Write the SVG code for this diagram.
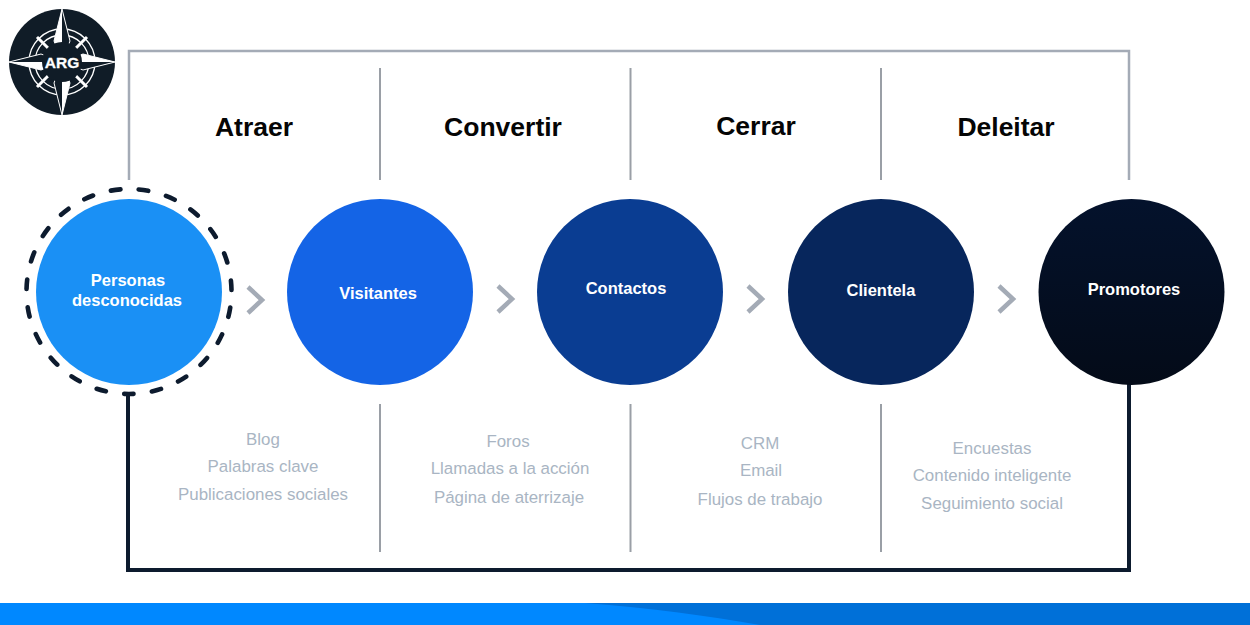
<svg xmlns="http://www.w3.org/2000/svg" width="1250" height="625" viewBox="0 0 1250 625">
<defs>
<style>
text{font-family:"Liberation Sans",Arial,sans-serif}
.h{font-size:26.500px;font-weight:700;fill:#050505;text-anchor:middle}
.n{font-size:16.500px;font-weight:700;fill:#fff;text-anchor:middle}
.l{font-size:16.900px;fill:#a9b5c3;text-anchor:middle}
.g{fill:none;stroke:#a4abb6;stroke-width:2.500}
.gv{fill:none;stroke:#9a9fa6;stroke-width:2}
.d{fill:none;stroke:#0d1b2e;stroke-width:4}
.c{fill:none;stroke:#a4abb6;stroke-width:4.500}
.w{fill:#fff}
</style>
<linearGradient id="p5" x1="0" y1="0" x2="0" y2="1"><stop offset="0" stop-color="#04122c"/><stop offset="1" stop-color="#040b18"/></linearGradient>
</defs>
<rect width="1250" height="625" fill="#fff"/>
<g id="connectors">
<path class="g" d="M129 180V51H1129V180"/>
<path class="d" d="M128 392V570H1129V384"/>
<path class="gv" d="M380 68V180M630.500 68V180M881 68V180M380 404V552M630.500 404V552M881 404V552"/>
<path class="c" d="M248 287L262 300L248 313"/>
<path class="c" d="M498 286L512 299L498 312"/>
<path class="c" d="M748 286L762 299L748 312"/>
<path class="c" d="M999 286L1013 299L999 312"/>
</g>
<g id="logo">
<circle cx="62" cy="62" r="53" fill="#101c27"/>
<g fill="none" stroke="#fff" stroke-width="1.300"><circle cx="62" cy="62" r="33"/><circle cx="62" cy="62" r="27"/></g>
<path d="M37 37L87 87M87 37L37 87" stroke="#fff" stroke-width="3"/>
<path d="M62 9L70 41L62 62L54 41ZM62 115L70 83L62 62L54 83ZM9 62L41 54L62 62L41 70ZM115 62L83 54L62 62L83 70Z" fill="#101c27" stroke="#fff" stroke-width="1"/>
<path class="w" d="M62 9L54 41L62 62ZM62 115L70 83L62 62ZM9 62L41 70L62 62ZM115 62L83 54L62 62Z"/>
<circle cx="62" cy="62" r="20" fill="#101c27"/>
<text x="62" y="67.500" text-anchor="middle" font-size="15.500" font-weight="700" fill="#fff" stroke="#fff" stroke-width=".3">ARG</text>
</g>
<g id="atraer"><text class="h" x="254" y="136">Atraer</text></g>
<g id="convertir"><text class="h" x="503" y="136">Convertir</text></g>
<g id="cerrar"><text class="h" x="756" y="135">Cerrar</text></g>
<g id="deleitar"><text class="h" x="1006" y="136">Deleitar</text></g>
<g id="personas">
<circle cx="129" cy="291.500" r="102.500" fill="none" stroke="#0d1b2e" stroke-width="4.600" stroke-linecap="round" stroke-dasharray="9.500 18.500" stroke-dashoffset="11.800"/>
<circle cx="129" cy="292" r="93" fill="#1a90f5"/>
<text class="n" x="128" y="286">Personas</text>
<text class="n" x="127" y="306">desconocidas</text>
</g>
<g id="visitantes"><circle cx="380" cy="292" r="93" fill="#1464e6"/><text class="n" x="378" y="299">Visitantes</text></g>
<g id="contactos"><circle cx="630" cy="292" r="93" fill="#0a3d92"/><text class="n" x="626" y="294">Contactos</text></g>
<g id="clientela"><circle cx="881" cy="292" r="93" fill="#07265c"/><text class="n" x="881" y="296">Clientela</text></g>
<g id="promotores"><circle cx="1131.500" cy="292" r="93" fill="url(#p5)"/><text class="n" x="1134" y="295">Promotores</text></g>
<g id="lista-atraer"><text class="l" x="263" y="445">Blog</text><text class="l" x="263" y="472">Palabras clave</text><text class="l" x="263" y="500">Publicaciones sociales</text></g>
<g id="lista-convertir"><text class="l" x="508" y="447">Foros</text><text class="l" x="510" y="474">Llamadas a la acción</text><text class="l" x="509" y="503">Página de aterrizaje</text></g>
<g id="lista-cerrar"><text class="l" x="760" y="449">CRM</text><text class="l" x="761" y="476">Email</text><text class="l" x="760" y="505">Flujos de trabajo</text></g>
<g id="lista-deleitar"><text class="l" x="992" y="454">Encuestas</text><text class="l" x="992" y="481">Contenido inteligente</text><text class="l" x="992" y="509">Seguimiento social</text></g>
<g id="banda"><rect y="603" width="1250" height="22" fill="#0070d8"/><path d="M0 603H585C650 608 710 616 760 625H0Z" fill="#0088ff"/></g>
</svg>
